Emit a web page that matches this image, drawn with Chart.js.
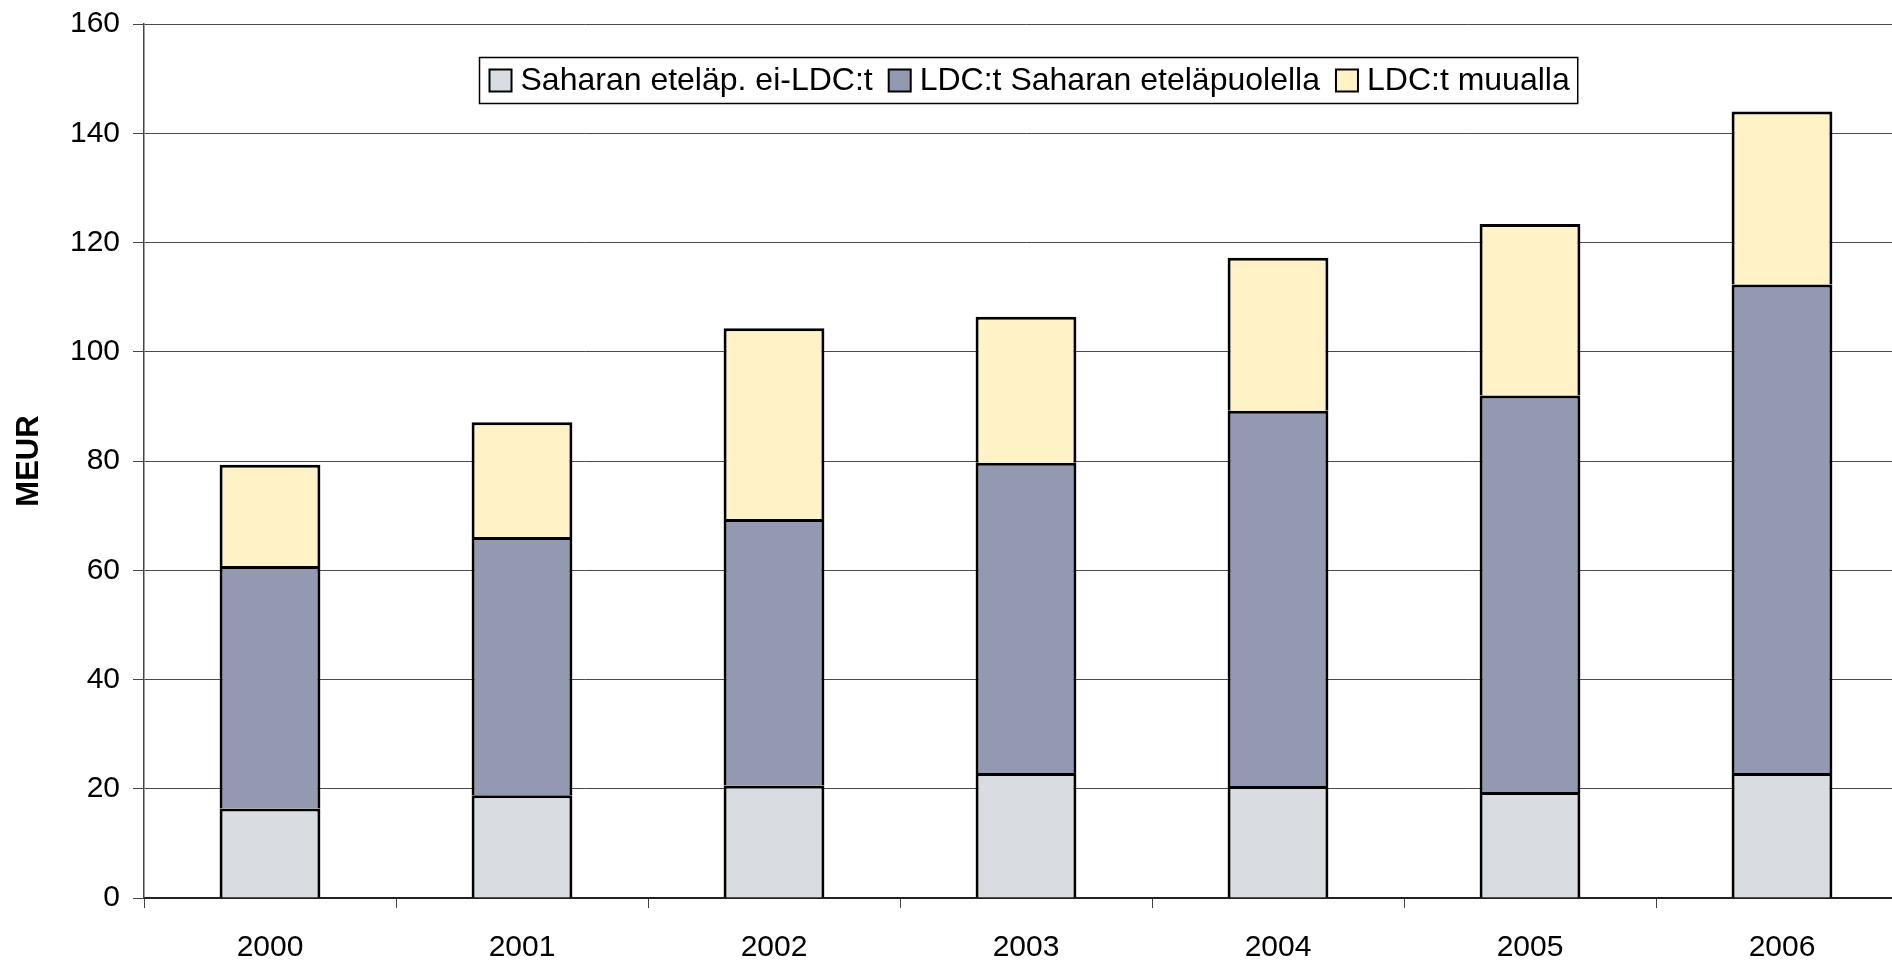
<!DOCTYPE html>
<html>
<head>
<meta charset="utf-8">
<script src="https://cdn.jsdelivr.net/npm/chart.js@4"></script>
<style>
html,body{margin:0;padding:0;background:#fff;overflow:hidden;}
#wrap{position:relative;width:1910px;height:963px;}
</style>
</head>
<body>
<div id="wrap"><canvas id="c"></canvas></div>
<script>
const categories = ['2000','2001','2002','2003','2004','2005','2006'];
const seriesNames = ['Saharan eteläp. ei-LDC:t','LDC:t Saharan eteläpuolella','LDC:t muualla'];
const saharaNonLdc = [16.4, 18.8, 20.6, 22.9, 20.5, 19.4, 22.9];
const ldcSahara = [44.4, 47.3, 48.8, 56.8, 68.7, 72.6, 89.4];
const ldcElsewhere = [18.5, 21.0, 34.9, 26.7, 28.0, 31.4, 31.7];
const seriesColors = ['#D9DCE1', '#9399B1', '#FEF2C6'];
const yTicks = [0, 20, 40, 60, 80, 100, 120, 140, 160];
const yTitle = 'MEUR';

const FONT = '"Liberation Sans", Arial, sans-serif';

const boxLegend = {
  id: 'boxLegend',
  afterDraw(chart) {
    const ctx = chart.ctx;
    const ca = chart.chartArea;
    ctx.save();
    ctx.font = '32px ' + FONT;
    const box = 22, gapText = 9, gapItem = 16, padL = 10, padR = 8;
    const items = chart.data.datasets.map(d => ({label: d.label, color: d.backgroundColor, w: ctx.measureText(d.label).width}));
    let total = padL + padR;
    items.forEach((it, i) => { total += box + gapText + it.w + (i < items.length - 1 ? gapItem : 0); });
    const cx = (ca.left + ca.right) / 2 + 2;
    const left = Math.round(cx - total / 2) + 0.5;
    const top = 57.5, h = 46;
    ctx.fillStyle = '#fff';
    ctx.fillRect(left, top, total, h);
    ctx.strokeStyle = '#000';
    ctx.lineWidth = 1.5;
    ctx.strokeRect(left, top, total, h);
    let x = left + padL;
    const cy = top + h / 2;
    items.forEach(it => {
      ctx.fillStyle = it.color;
      ctx.fillRect(x, cy - box / 2, box, box);
      ctx.lineWidth = 2;
      ctx.strokeStyle = '#000';
      ctx.strokeRect(x, cy - box / 2, box, box);
      x += box + gapText;
      ctx.fillStyle = '#000';
      ctx.textBaseline = 'middle';
      ctx.textAlign = 'left';
      ctx.fillText(it.label, x, cy + 1);
      x += it.w + gapItem;
    });
    ctx.restore();
  }
};

const datasets = [saharaNonLdc, ldcSahara, ldcElsewhere].map((vals, i) => ({
  label: seriesNames[i],
  data: vals,
  backgroundColor: seriesColors[i],
  borderColor: '#000',
  borderWidth: 3,
  borderSkipped: 'start',
  barPercentage: 0.4,
  categoryPercentage: 1.0
}));

new Chart(document.getElementById('c'), {
  type: 'bar',
  data: { labels: categories, datasets },
  plugins: [boxLegend],
  options: {
    responsive: true,
    maintainAspectRatio: false,
    animation: false,
    layout: { padding: { top: 24, right: 2, left: 0, bottom: 0 } },
    plugins: {
      legend: { display: false },
      tooltip: { enabled: false }
    },
    scales: {
      x: {
        stacked: true,
        offset: true,
        grid: { display: true, drawOnChartArea: false, drawTicks: true, tickLength: 10, offset: true, color: '#444', tickColor: '#444' },
        border: { display: true, color: '#222', width: 2 },
        ticks: { color: '#000', font: { family: FONT, size: 30 }, padding: 22, maxRotation: 0, autoSkip: false },
        afterFit(scale) { scale.height = 65; }
      },
      y: {
        stacked: true,
        min: 0,
        max: 160,
        afterBuildTicks(scale) { scale.ticks = yTicks.map(v => ({ value: v })); },
        grid: { color: '#4a4a4a', lineWidth: 1, drawTicks: true, tickLength: 11, tickColor: '#444' },
        border: { display: true, color: '#444', width: 1.5 },
        ticks: { color: '#000', font: { family: FONT, size: 30 }, padding: 13 },
        title: { display: true, text: yTitle, color: '#000', font: { family: FONT, size: 31, weight: 'bold' }, padding: { top: 11, bottom: 0 } },
        afterFit(scale) { scale.width = 144; scale.paddingTop = 18; scale.paddingBottom = 0; }
      }
    }
  }
});
</script>
</body>
</html>
